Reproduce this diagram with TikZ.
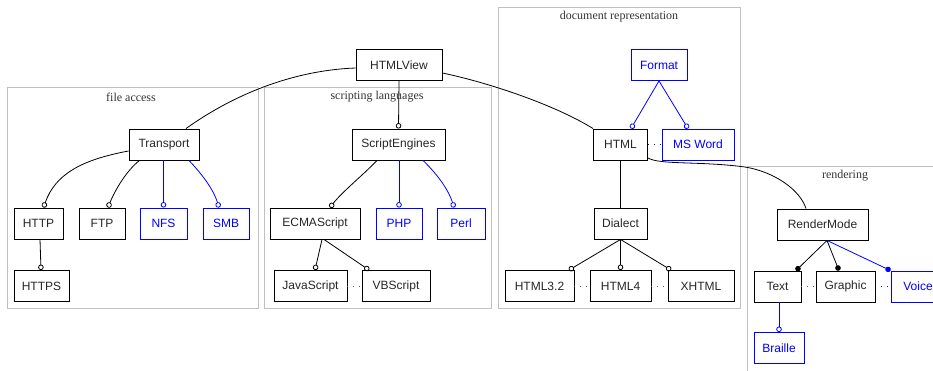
\documentclass[tikz,border=0pt]{standalone}
\usepackage{fontspec}
\setmainfont{Liberation Serif}
\setsansfont{Liberation Sans}
\usetikzlibrary{arrows.meta,calc}
\definecolor{clus}{RGB}{192,192,192}
\definecolor{dotc}{RGB}{90,90,90}
\begin{document}
\begin{tikzpicture}[x=1pt,y=-1pt,
  box/.style={draw=black,line width=0.9pt,font=\sffamily\fontsize{12}{14}\selectfont,minimum height=31pt,inner sep=0pt,text=black!85},
  bbox/.style={box,draw=blue,text=blue},
  cluster/.style={draw=clus,line width=0.8pt},
  clab/.style={font=\rmfamily\fontsize{12}{14}\selectfont,text=black!80,inner sep=0pt},
  edge/.style={line width=0.8pt},
  bedge/.style={line width=0.8pt,draw=blue},
  oc/.style={-{Circle[open,length=5.5pt,width=5.5pt,line width=0.8pt]}},
  fc/.style={-{Circle[length=5.5pt,width=5.5pt]}},
  dots/.style={line width=0.8pt,dash pattern=on 0.8pt off 5pt,draw=dotc},
  bdots/.style={dots,draw=blue}
]
\useasboundingbox (0,0) rectangle (933,370);
\clip (0,0) rectangle (933,370);

% clusters
\draw[cluster] (7,87) rectangle (258,308.5);
\node[clab] (lfa) at (131,97) {file access};
\draw[cluster] (264,87) rectangle (491.5,308.5);
\node[clab] (lsl) at (377,97) {scripting languages};
\draw[cluster] (498,7.5) rectangle (740.5,308.5);
\node[clab] (ldr) at (619,17) {document representation};
\draw[cluster] (747.5,166.5) rectangle (945,380);
\node[clab] (lrd) at (845,176) {rendering};

% nodes
\node[box,minimum width=86pt] (hv) at (399,65) {HTMLView};

\node[box,minimum width=70pt] (tr) at (164,144.5) {Transport};
\node[box,minimum width=49pt] (http) at (38.5,223.5) {HTTP};
\node[box,minimum width=46pt] (ftp) at (102,223.5) {FTP};
\node[bbox,minimum width=47pt] (nfs) at (163.5,223.5) {NFS};
\node[bbox,minimum width=46pt] (smb) at (226,223.5) {SMB};
\node[box,minimum width=55pt] (https) at (41.5,286) {HTTPS};

\node[box,minimum width=93pt] (se) at (398.5,144.5) {ScriptEngines};
\node[box,minimum width=90pt] (ecma) at (315,223.5) {ECMAScript};
\node[bbox,minimum width=46pt] (php) at (399,223.5) {PHP};
\node[bbox,minimum width=48pt] (perl) at (461,223.5) {Perl};
\node[box,minimum width=73pt] (js) at (310.5,286) {JavaScript};
\node[box,minimum width=68pt] (vb) at (396,286) {VBScript};

\node[bbox,minimum width=56pt] (fmt) at (659,65) {Format};
\node[box,minimum width=54pt] (html) at (620.5,144.5) {HTML};
\node[bbox,minimum width=72pt] (msw) at (698,144.5) {MS Word};
\node[box,minimum width=53pt] (dia) at (620.5,223.5) {Dialect};
\node[box,minimum width=69pt] (h32) at (539.5,286) {HTML3.2};
\node[box,minimum width=61pt] (h4) at (620.5,286) {HTML4};
\node[box,minimum width=66pt] (xh) at (701,286) {XHTML};

\node[box,minimum width=91pt] (rm) at (822.5,224.5) {RenderMode};
\node[box,minimum width=47pt] (txt) at (777.5,286.5) {Text};
\node[box,minimum width=59pt] (gr) at (845.5,286.5) {Graphic};
\node[bbox,minimum width=54pt] (vc) at (918,286.5) {Voice};
\node[bbox,minimum width=50pt] (br) at (779,348) {Braille};

% connectors from HTMLView
\draw[edge] ($(hv.west)+(0,3)$) .. controls (300,70) and (240,90) .. ($(tr.north)+(22,0)$);
\draw[edge,oc] (hv.south) -- (se.north);
\draw[edge] ($(hv.east)+(0,8)$) .. controls (490,83) and (555,105) .. (html.north west);
\draw[edge] ($(html.east)+(0,13.5)$) .. controls (660,165) and (700,161) .. (745,167)
  .. controls (775,172) and (800,190) .. ($(rm.north)+(-16.5,0)$);

% file access
\draw[edge,oc] ($(tr.west)+(0,6.5)$) .. controls (80,160) and (55,175) .. ($(http.north)+(5,0)$);
\draw[edge,oc] ($(tr.south west)+(11,0)$) .. controls (127,170) and (115,190) .. ($(ftp.north)+(6,0)$);
\draw[bedge,oc] (nfs.north |- tr.south) -- (nfs.north);
\draw[bedge,oc] ($(tr.south)+(25,0)$) .. controls (200,172) and (213,188) .. ($(smb.north)+(-7,0)$);
\draw[edge,oc] ($(http.south)+(1.5,0)$) -- ($(https.north)+(-0.5,0)$);

% scripting
\draw[edge,oc] ($(se.south)+(-21.5,0)$) .. controls (362,176) and (342,192) .. ($(ecma.north)+(15,0)$);
\draw[bedge,oc] (php.north |- se.south) -- (php.north);
\draw[bedge,oc] ($(se.south)+(24.5,0)$) .. controls (435,172) and (448,188) .. ($(perl.north)+(-7,0)$);
\draw[edge,oc] ($(ecma.south)+(7,0)$) -- ($(js.north)+(4.5,0)$);
\draw[edge,oc] ($(ecma.south)+(9,0)$) -- ($(vb.north)+(-27,0)$);
\draw[dots] (js.east) -- (vb.west);

% document representation
\draw[bedge,oc] (fmt.south) -- ($(html.north)+(10.5,0)$);
\draw[bedge,oc] (fmt.south) -- ($(msw.north)+(-10,0)$);
\draw[bdots] (html.east) -- (msw.west);
\draw[edge] (html.south) -- (dia.north);
\draw[edge,oc] (dia.south) -- ($(h32.north)+(29.5,0)$);
\draw[edge,oc] (dia.south) -- (h4.north);
\draw[edge,oc] (dia.south) -- ($(xh.north)+(-30,0)$);
\draw[dots] (h32.east) -- (h4.west);
\draw[dots] (h4.east) -- (xh.west);

% rendering
\draw[edge,fc] ($(rm.south)+(4.5,0)$) -- ($(txt.north)+(18.5,0)$);
\draw[edge,fc] ($(rm.south)+(4.5,0)$) -- ($(gr.north)+(-6.5,0)$);
\draw[bedge,fc,blue] ($(rm.south)+(4.5,0)$) -- (vc.north west);
\draw[dots] (txt.east) -- (gr.west);
\draw[bdots] (gr.east) -- (vc.west);
\draw[bedge,oc] ($(txt.south)+(1.5,0)$) -- (br.north);
\end{tikzpicture}
\end{document}
